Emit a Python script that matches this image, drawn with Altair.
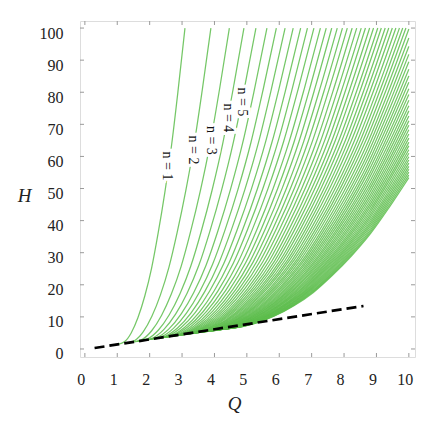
import altair as alt
import pandas as pd

# Shape of the n = 1 curve (Q, H)
curve1_q = [1.02, 1.23, 1.43, 1.64, 1.85, 2.06, 2.26, 2.47, 2.68, 2.88, 3.09]
curve1_h = [1.44, 2.3, 5.0, 9.8, 16.5, 25.2, 36.0, 48.9, 63.8, 80.8, 100.0]

# Start (on the dashed line) and end of every curve n = 1..64
q_start = [1.02, 1.29, 1.47, 1.62, 1.74, 1.85, 1.95, 2.04, 2.12, 2.20,
           2.27, 2.34, 2.40, 2.46, 2.52, 2.57, 2.62, 2.67, 2.72, 2.77,
           2.81, 2.86, 2.90, 2.94, 2.98, 3.02, 3.06, 3.10, 3.13, 3.17,
           3.20, 3.24, 3.27, 3.30, 3.34, 3.37, 3.40, 3.43, 3.46, 3.49,
           3.52, 3.55, 3.57, 3.60, 3.63, 3.65, 3.68, 3.71, 3.73, 3.76,
           3.78, 3.81, 3.83, 3.86, 3.88, 3.90, 3.93, 3.95, 3.97, 3.99,
           4.02, 4.04, 4.06, 4.08]
h_start = [1.44, 1.86, 2.15, 2.38, 2.58, 2.75, 2.91, 3.05, 3.18, 3.30,
           3.41, 3.51, 3.61, 3.71, 3.80, 3.89, 3.97, 4.05, 4.13, 4.20,
           4.27, 4.34, 4.41, 4.47, 4.54, 4.60, 4.66, 4.72, 4.78, 4.83,
           4.89, 4.94, 4.99, 5.04, 5.10, 5.15, 5.19, 5.24, 5.29, 5.33,
           5.38, 5.42, 5.47, 5.51, 5.55, 5.60, 5.64, 5.68, 5.72, 5.76,
           5.80, 5.84, 5.88, 5.91, 5.95, 5.99, 6.02, 6.06, 6.10, 6.13,
           6.17, 6.20, 6.23, 6.27]
q_end = [3.09, 3.89, 4.46, 4.91, 5.28, 5.62, 5.91, 6.18, 6.43, 6.66,
         6.87, 7.07, 7.27, 7.45, 7.62, 7.79, 7.95, 8.10, 8.25, 8.39,
         8.53, 8.66, 8.79, 8.91, 9.04, 9.15, 9.27, 9.38, 9.49, 9.60,
         9.71, 9.81, 9.91, 10, 10, 10, 10, 10, 10, 10,
         10, 10, 10, 10, 10, 10, 10, 10, 10, 10,
         10, 10, 10, 10, 10, 10, 10, 10, 10, 10,
         10, 10, 10, 10]
h_end = [100] * 33 + [99.7, 96.9, 94.3, 91.8, 89.5, 87.2, 85.1, 83.1, 81.1, 79.3,
                      77.5, 75.8, 74.2, 72.6, 71.1, 69.7, 68.3, 67.0, 65.7, 64.4,
                      63.3, 62.1, 61.0, 59.9, 58.9, 57.9, 56.9, 56.0, 55.1, 54.2,
                      53.4]

# Dashed reference line
dash_q = [0.3, 8.6]
dash_h = [0.3, 13.4]

# Curve labels
label_txt = ["n = 1", "n = 2", "n = 3", "n = 4", "n = 5"]
label_q = [2.55, 3.34, 3.88, 4.41, 4.84]
label_h = [57, 62, 65, 72, 77]

x_ticks = [0, 1, 2, 3, 4, 5, 6, 7, 8, 9, 10]
y_ticks = [0, 10, 20, 30, 40, 50, 60, 70, 80, 90, 100]

# ---- build tables ----
rows = []
q0, q1 = curve1_q[0], curve1_q[-1]
h0, h1 = curve1_h[0], curve1_h[-1]
for i in range(len(q_start)):
    for cq, ch in zip(curve1_q, curve1_h):
        fq = (cq - q0) / (q1 - q0)
        fh = (ch - h0) / (h1 - h0)
        rows.append({"n": i + 1, "k": fq,
                     "Q": q_start[i] + fq * (q_end[i] - q_start[i]),
                     "H": h_start[i] + fh * (h_end[i] - h_start[i])})
curves_df = pd.DataFrame(rows)
dash_df = pd.DataFrame({"Q": dash_q, "H": dash_h})
lab_df = pd.DataFrame({"Q": label_q, "H": label_h, "t": label_txt})
xt_df = pd.DataFrame({"Q": x_ticks})
yt_df = pd.DataFrame({"H": y_ticks})

W, H = 335, 336
frame = "#9a9a9a"
serif = "'Liberation Serif', 'DejaVu Serif', serif"
xs = alt.Scale(domain=[-0.15, 10.19], nice=False, zero=False)
ys = alt.Scale(domain=[-2.5, 102.2], nice=False, zero=False)

x_axis = alt.Axis(values=x_ticks, ticks=False, domain=False, grid=False,
                  labelFont=serif, labelFontSize=16, labelColor="#222222",
                  labelPadding=14, labelOffset=-4, labelFlush=False,
                  title="Q", titleFont=serif, titleFontStyle="italic",
                  titleFontWeight="normal", titleFontSize=19, titleColor="#222222",
                  titleX=154, titleY=46, titleBaseline="middle", titleAlign="center")
y_axis = alt.Axis(values=y_ticks, ticks=False, domain=False, grid=False,
                  labelFont=serif, labelFontSize=16, labelColor="#222222",
                  labelPadding=17, labelOffset=5, labelFlush=False,
                  title="H", titleFont=serif, titleFontStyle="italic",
                  titleFontWeight="normal", titleFontSize=19, titleColor="#222222",
                  titleAngle=0, titleX=-56, titleY=174, titleBaseline="middle",
                  titleAlign="center")


def X():
    return alt.X("Q:Q", scale=xs, axis=x_axis, title="Q")


def Y():
    return alt.Y("H:Q", scale=ys, axis=y_axis, title="H")


curves = alt.Chart(curves_df).mark_line(
    color="#5dbd4c", strokeWidth=1.25, interpolate="monotone", opacity=0.85
).encode(x=X(), y=Y(), detail="n:N", order="k:Q")

dashed = alt.Chart(dash_df).mark_line(
    color="black", strokeWidth=2.7, strokeDash=[10, 5]
).encode(x=X(), y=Y())

tb = alt.Chart(xt_df).mark_rule(color=frame, strokeWidth=1).encode(
    x=X(), y=alt.value(H), y2=alt.value(H - 4))
tt = alt.Chart(xt_df).mark_rule(color=frame, strokeWidth=1).encode(
    x=X(), y=alt.value(0), y2=alt.value(4))
tl = alt.Chart(yt_df).mark_rule(color=frame, strokeWidth=1).encode(
    y=Y(), x=alt.value(0), x2=alt.value(4))
tr = alt.Chart(yt_df).mark_rule(color=frame, strokeWidth=1).encode(
    y=Y(), x=alt.value(W), x2=alt.value(W - 4))

halo = alt.Chart(lab_df).mark_text(
    angle=90, font=serif, fontSize=14, stroke="white", strokeWidth=6,
    color="white", align="center", baseline="middle"
).encode(x=X(), y=Y(), text="t:N")
labels = alt.Chart(lab_df).mark_text(
    angle=90, font=serif, fontSize=14, color="#111111",
    align="center", baseline="middle"
).encode(x=X(), y=Y(), text="t:N")

chart = alt.layer(curves, halo, labels, dashed, tb, tt, tl, tr).properties(
    width=W, height=H,
    padding={"left": 72, "top": 13, "right": 13, "bottom": 64},
    autosize=alt.AutoSizeParams(type="none"),
).configure_view(stroke=frame, strokeWidth=1).configure(background="white")

chart.save("out.html", embed_options={"renderer": "svg", "actions": False})
